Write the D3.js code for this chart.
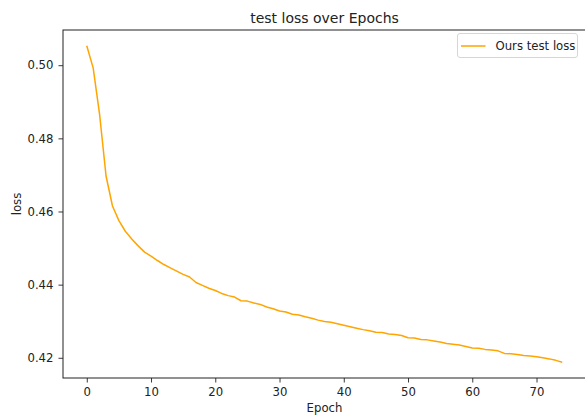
<!DOCTYPE html>
<html>
<head>
<meta charset="utf-8">
<script src="https://cdn.jsdelivr.net/npm/d3@7"></script>
<style>
  body { margin: 0; background: #fff; }
  svg { display: block; font-family: "DejaVu Sans", sans-serif; }
</style>
</head>
<body>
<div id="chart"></div>
<script>
// <-- ************ DATA ************ -->
const LOSS = [
  0.5053, 0.4992, 0.4865, 0.4697, 0.4615, 0.4575, 0.4546, 0.4525, 0.4506, 0.4489,
  0.4478, 0.4466, 0.4455, 0.4446, 0.4437, 0.4428, 0.4421, 0.4406, 0.4398, 0.4390,
  0.4384, 0.4376, 0.4370, 0.4366, 0.4356, 0.4355, 0.4350, 0.4346, 0.4339, 0.4334,
  0.4328, 0.4325, 0.4319, 0.4317, 0.4312, 0.4308, 0.4303, 0.4299, 0.4297, 0.4293,
  0.4289, 0.4285, 0.4281, 0.4277, 0.4274, 0.4270, 0.4269, 0.4265, 0.4264, 0.4261,
  0.4255, 0.4254, 0.4250, 0.4249, 0.4246, 0.4243, 0.4239, 0.4237, 0.4235, 0.4231,
  0.4227, 0.4226, 0.4223, 0.4221, 0.4219, 0.4212, 0.4211, 0.4209, 0.4206, 0.4205,
  0.4203, 0.4200, 0.4197, 0.4193, 0.4188
];
const EPOCHS = LOSS.map((d, i) => i);
const X_TICKS = [0, 10, 20, 30, 40, 50, 60, 70];
const Y_TICKS = [0.42, 0.44, 0.46, 0.48, 0.50];
const SERIES_NAME = "Ours test loss";

// <-- ************ GLOBAL CONSTANTS ************ -->
const FRAME_WIDTH = 585;
const FRAME_HEIGHT = 417;
const MARGINS = {left: 63, right: -1, top: 30, bottom: 39};
const LINE_COLOR = "orange";

const svg = d3.select("#chart")
  .append("svg")
  .attr("width", FRAME_WIDTH)
  .attr("height", FRAME_HEIGHT);

// matplotlib style 5% padding on the data range
const xExt = d3.extent(EPOCHS);
const yExt = d3.extent(LOSS);
const xPad = (xExt[1] - xExt[0]) * 0.05;
const yPad = (yExt[1] - yExt[0]) * 0.05;

const X_SCALE = d3.scaleLinear()
  .domain([xExt[0] - xPad, xExt[1] + xPad])
  .range([MARGINS.left, FRAME_WIDTH - MARGINS.right]);

const Y_SCALE = d3.scaleLinear()
  .domain([yExt[0] - yPad, yExt[1] + yPad])
  .range([FRAME_HEIGHT - MARGINS.bottom, MARGINS.top]);

// line
const line = d3.line()
  .x((d, i) => X_SCALE(EPOCHS[i]))
  .y(d => Y_SCALE(d));

svg.append("path")
  .datum(LOSS)
  .attr("fill", "none")
  .attr("stroke", LINE_COLOR)
  .attr("stroke-width", 1.5)
  .attr("stroke-linejoin", "round")
  .attr("d", line);

// axes
const xAxis = svg.append("g")
  .attr("transform", "translate(0," + (FRAME_HEIGHT - MARGINS.bottom) + ")")
  .call(d3.axisBottom(X_SCALE).tickValues(X_TICKS).tickSize(4.5).tickPadding(5).tickSizeOuter(0))
  .attr("font-size", "11.7px")
  .attr("font-family", "DejaVu Sans, sans-serif");

const yAxis = svg.append("g")
  .attr("transform", "translate(" + MARGINS.left + ",0)")
  .call(d3.axisLeft(Y_SCALE).tickValues(Y_TICKS).tickFormat(d3.format(".2f")).tickSize(4.5).tickPadding(5).tickSizeOuter(0))
  .attr("font-size", "11.7px")
  .attr("font-family", "DejaVu Sans, sans-serif");

[xAxis, yAxis].forEach(ax => {
  ax.select(".domain").remove();
  ax.selectAll("line").attr("stroke", "#222").attr("stroke-width", 0.9);
  ax.selectAll("text").attr("fill", "#222");
});

// spines
const x0 = X_SCALE.range()[0], x1 = X_SCALE.range()[1];
const y0 = Y_SCALE.range()[1], y1 = Y_SCALE.range()[0];
svg.append("rect")
  .attr("x", x0).attr("y", y0)
  .attr("width", x1 - x0).attr("height", y1 - y0)
  .attr("fill", "none")
  .attr("stroke", "#222")
  .attr("stroke-width", 1);

// title and labels
svg.append("text")
  .attr("x", (x0 + x1) / 2)
  .attr("y", 22.5)
  .attr("text-anchor", "middle")
  .attr("font-size", "14px")
  .attr("fill", "#222")
  .text("test loss over Epochs");

svg.append("text")
  .attr("x", (x0 + x1) / 2)
  .attr("y", 411.5)
  .attr("text-anchor", "middle")
  .attr("font-size", "11.7px")
  .attr("fill", "#222")
  .text("Epoch");

svg.append("text")
  .attr("transform", "translate(20.5," + ((y0 + y1) / 2) + ") rotate(-90)")
  .attr("text-anchor", "middle")
  .attr("font-size", "11.7px")
  .attr("fill", "#222")
  .text("loss");

// legend
const legend = svg.append("g").attr("transform", "translate(457.5,33.5)");
legend.append("rect")
  .attr("width", 120).attr("height", 24)
  .attr("rx", 2.5)
  .attr("fill", "#fff")
  .attr("stroke", "#d6d6d6")
  .attr("stroke-width", 1);
legend.append("line")
  .attr("x1", 3.5).attr("x2", 28)
  .attr("y1", 12.5).attr("y2", 12.5)
  .attr("stroke", LINE_COLOR)
  .attr("stroke-width", 1.5);
legend.append("text")
  .attr("x", 38)
  .attr("y", 16.5)
  .attr("font-size", "11.7px")
  .attr("fill", "#222")
  .text(SERIES_NAME);
</script>
</body>
</html>
